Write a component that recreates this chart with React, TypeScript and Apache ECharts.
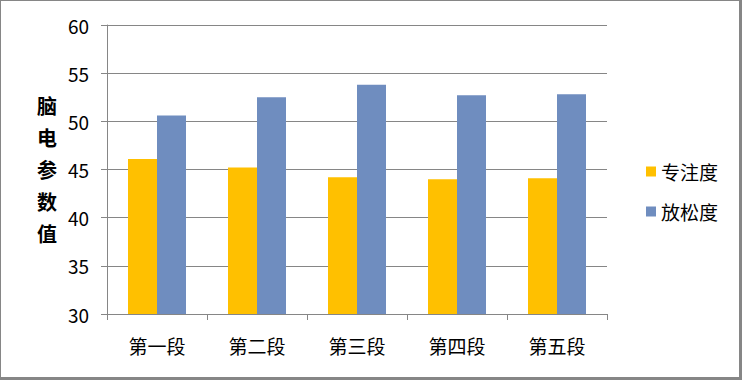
import React, { useEffect, useRef } from "react";
import * as echarts from "echarts";

const categories = ["第一段", "第二段", "第三段", "第四段", "第五段"];
const focusValues = [46.1, 45.2, 44.2, 44.0, 44.1];
const relaxValues = [50.6, 52.5, 53.8, 52.7, 52.8];
const seriesNames = ["专注度", "放松度"];
const yAxisTitle = "脑\n电\n参\n数\n值";

const FONT = "'Noto Sans CJK SC', 'Noto Sans', sans-serif";

export default function App() {
  const ref = useRef<HTMLDivElement>(null);
  useEffect(() => {
    document.body.style.margin = "0";
    const chart = echarts.init(ref.current!, null, { renderer: "svg" });
    chart.setOption({
      animation: false,
      backgroundColor: "#ffffff",
      textStyle: { fontFamily: FONT },
      grid: { left: 106, right: 132, top: 24, bottom: 63 },
      legend: {
        orient: "vertical",
        left: 640,
        top: 156,
        itemWidth: 10,
        itemHeight: 10,
        itemGap: 21,
        icon: "rect",
        textStyle: { fontSize: 19, color: "#000", fontFamily: FONT },
        data: seriesNames,
      },
      xAxis: {
        type: "category",
        data: categories,
        axisLine: { lineStyle: { color: "#868686", width: 1 } },
        axisTick: { show: true, length: 6, lineStyle: { color: "#868686" } },
        axisLabel: { color: "#000", fontSize: 19, margin: 22, fontFamily: FONT },
      },
      yAxis: {
        type: "value",
        min: 30,
        max: 60,
        interval: 5,
        name: yAxisTitle,
        nameLocation: "middle",
        nameRotate: 0,
        nameGap: 50,
        nameTextStyle: {
          fontSize: 20,
          fontWeight: "bold",
          color: "#000",
          lineHeight: 32,
          fontFamily: FONT,
        },
        axisLine: { show: true, lineStyle: { color: "#868686", width: 1 } },
        axisTick: { show: true, length: 6, lineStyle: { color: "#868686" } },
        axisLabel: { color: "#000", fontSize: 19, margin: 18, fontFamily: FONT },
        splitLine: { show: true, lineStyle: { color: "#868686", width: 1 } },
      },
      series: [
        {
          name: seriesNames[0],
          type: "bar",
          data: focusValues,
          barGap: "0%",
          barCategoryGap: "42%",
          itemStyle: { color: "#FFC000" },
        },
        {
          name: seriesNames[1],
          type: "bar",
          data: relaxValues,
          barGap: "0%",
          barCategoryGap: "42%",
          itemStyle: { color: "#6F8DBF" },
        },
      ],
    });
    return () => chart.dispose();
  }, []);
  return (
    <div
      style={{
        position: "absolute",
        left: 0,
        top: 0,
        width: 742,
        height: 380,
        boxSizing: "border-box",
        borderStyle: "solid",
        borderColor: "#868686",
        borderWidth: "1px 3px 3px 1px",
      }}
    >
      <div ref={ref} style={{ width: 738, height: 376 }} />
    </div>
  );
}
